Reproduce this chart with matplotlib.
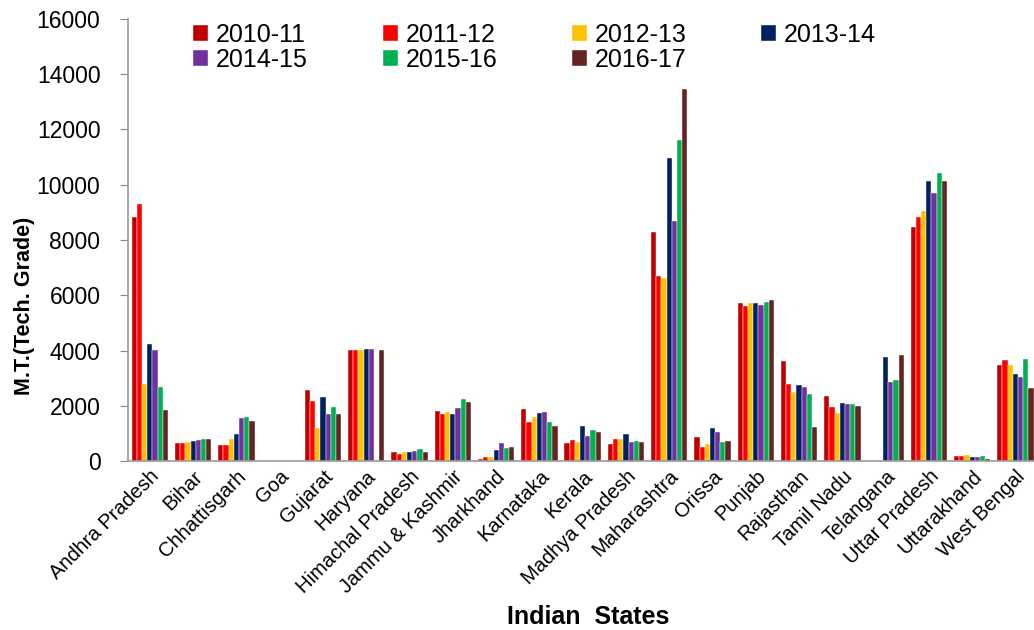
import numpy as np
import matplotlib
matplotlib.use("Agg")
import matplotlib.pyplot as plt

states = ["Andhra Pradesh", "Bihar", "Chhattisgarh", "Goa", "Gujarat", "Haryana",
          "Himachal Pradesh", "Jammu & Kashmir", "Jharkhand", "Karnataka", "Kerala",
          "Madhya Pradesh", "Maharashtra", "Orissa", "Punjab", "Rajasthan",
          "Tamil Nadu", "Telangana", "Uttar Pradesh", "Uttarakhand", "West Bengal"]
years = ["2010-11", "2011-12", "2012-13", "2013-14", "2014-15", "2015-16", "2016-17"]

y2010_11 = [8820, 640, 570, 0, 2570, 4030, 320, 1820, 70, 1870, 640,
            605, 8290, 860, 5710, 3610, 2355, 0, 8460, 180, 3490]
y2011_12 = [9290, 640, 570, 0, 2180, 4030, 270, 1690, 145, 1400, 770,
            810, 6700, 520, 5620, 2775, 1945, 0, 8830, 180, 3655]
y2012_13 = [2775, 690, 810, 0, 1195, 4030, 320, 1775, 145, 1605, 690,
            810, 6625, 605, 5710, 2520, 1725, 0, 9050, 230, 3465]
y2013_14 = [4235, 725, 980, 0, 2305, 4066, 320, 1690, 400, 1725, 1280,
            980, 10960, 1195, 5710, 2740, 2110, 3775, 10135, 145, 3150]
y2014_15 = [4030, 770, 1570, 0, 1690, 4066, 350, 1910, 650, 1775, 895,
            690, 8675, 1060, 5660, 2690, 2065, 2860, 9715, 145, 3030]
y2015_16 = [2690, 810, 1600, 0, 1945, 0, 440, 2245, 480, 1400, 1110,
            725, 11620, 690, 5745, 2435, 2065, 2945, 10415, 180, 3690]
y2016_17 = [1857, 810, 1470, 0, 1690, 4030, 320, 2150, 530, 1280, 1060,
            690, 13465, 725, 5830, 1230, 1980, 3825, 10135, 95, 2630]

series = [y2010_11, y2011_12, y2012_13, y2013_14, y2014_15, y2015_16, y2016_17]
colors = ["#C00000", "#FF0000", "#FFC000", "#002060", "#7030A0", "#00B050", "#632523"]

plt.rcParams["font.family"] = ["Liberation Sans", "DejaVu Sans"]

fig = plt.figure(figsize=(10.34, 6.3), dpi=100)
# right edge sits a little past the canvas, as in the original
ax = fig.add_axes([0.124, 0.268, 0.879, 0.702])

x = np.arange(len(states))
w = 0.12
handles = []
for i, (vals, col, lab) in enumerate(zip(series, colors, years)):
    b = ax.bar(x + (i - 3) * w, vals, width=w, color=col, label=lab,
               edgecolor="white", linewidth=0.3)
    handles.append(b)

ax.set_xlim(-0.5, len(states) - 0.5)
ax.set_ylim(0, 16000)
ax.set_yticks(np.arange(0, 16001, 2000))
ax.tick_params(axis="y", labelsize=16.5, length=6, color="#888888",
               direction="out", pad=14)
ax.tick_params(axis="x", length=0, labelsize=14.5, pad=4)
ax.set_xticks(x)
ax.set_xticklabels(states, rotation=45, ha="right", rotation_mode="anchor")

for s in ["top", "right"]:
    ax.spines[s].set_visible(False)
for s in ["left", "bottom"]:
    ax.spines[s].set_color("#999999")
    ax.spines[s].set_linewidth(1.2)

ax.set_ylabel("M.T.(Tech. Grade)", fontsize=15.5, fontweight="bold")
ax.yaxis.set_label_coords(-0.103, 0.35)
ax.set_xlabel("Indian  States", fontsize=18, fontweight="bold")
ax.xaxis.set_label_coords(0.506, -0.325)

order = [0, 4, 1, 5, 2, 6, 3]
ax.legend([handles[k] for k in order], [years[k] for k in order], ncol=4,
          loc="upper left", bbox_to_anchor=(0.058, 1.019), frameon=False,
          fontsize=18, handlelength=0.6, handleheight=0.6, handletextpad=0.3,
          columnspacing=3.0, labelspacing=0.05, borderaxespad=0.1)

fig.savefig("out.png", dpi=100)
